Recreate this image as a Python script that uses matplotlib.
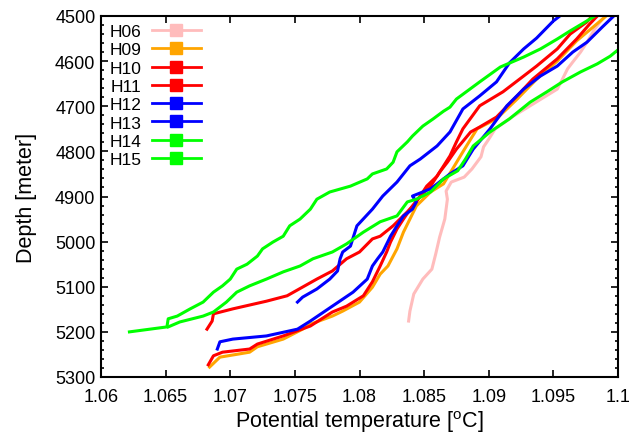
import matplotlib

matplotlib.use("Agg")

import matplotlib.pyplot as plt
from matplotlib.lines import Line2D
from matplotlib.ticker import AutoMinorLocator, FuncFormatter, MultipleLocator

plt.rcParams["font.family"] = ["Liberation Sans", "DejaVu Sans"]
plt.rcParams["mathtext.fontset"] = "custom"
plt.rcParams["mathtext.rm"] = "Liberation Sans"

STATIONS = ["H06", "H09", "H10", "H11", "H12", "H13", "H14", "H15"]
COLORS = ["#ffbcbc", "#ffa500", "#ff0000", "#ff0000", "#0000ff", "#0000ff", "#00ff00", "#00ff00"]

# potential temperature [degC] and depth [m]
h06_temp = [1.0838, 1.0839, 1.0842, 1.0849, 1.0856, 1.0859, 1.0862, 1.0866, 1.0868, 1.0867,
            1.0871, 1.0881, 1.0887, 1.0894, 1.0896, 1.0900, 1.0905, 1.0919, 1.0932, 1.0953,
            1.0957, 1.0961, 1.0965, 1.0971, 1.0976, 1.0982, 1.0988, 1.0990]
h06_depth = [5176, 5154, 5116, 5083, 5061, 5027, 4990, 4950, 4906, 4888,
             4868, 4857, 4839, 4812, 4790, 4773, 4750, 4722, 4699, 4662,
             4640, 4617, 4602, 4580, 4558, 4529, 4507, 4500]

h09_temp = [1.0684, 1.0692, 1.0715, 1.0721, 1.0741, 1.0756, 1.0762, 1.0779, 1.0787, 1.0800,
            1.0810, 1.0816, 1.0822, 1.0829, 1.0834, 1.0839, 1.0844, 1.0855, 1.0865, 1.0872,
            1.0880, 1.0886, 1.0891, 1.0906, 1.0922, 1.0937, 1.0953, 1.0968, 1.0981, 1.0990]
h09_depth = [5278, 5256, 5245, 5233, 5216, 5194, 5183, 5165, 5154, 5134,
             5101, 5072, 5054, 5016, 4979, 4950, 4921, 4890, 4872, 4839,
             4801, 4773, 4750, 4728, 4684, 4640, 4600, 4555, 4524, 4502]

h10_temp = [1.0683, 1.0687, 1.0694, 1.0715, 1.0721, 1.0741, 1.0762, 1.0779, 1.0790, 1.0803,
            1.0810, 1.0816, 1.0821, 1.0824, 1.0829, 1.0834, 1.0841, 1.0847, 1.0855, 1.0862,
            1.0868, 1.0875, 1.0886, 1.0893, 1.0906, 1.0922, 1.0934, 1.0953, 1.0968, 1.0978,
            1.0984]
h10_depth = [5273, 5253, 5245, 5238, 5227, 5209, 5187, 5156, 5143, 5120,
             5089, 5054, 5023, 5001, 4972, 4950, 4921, 4899, 4877, 4846,
             4824, 4795, 4757, 4746, 4724, 4677, 4640, 4595, 4551, 4518,
             4500]

h11_temp = [1.0682, 1.0686, 1.0687, 1.0702, 1.0728, 1.0744, 1.0767, 1.0779, 1.0790, 1.0800,
            1.0810, 1.0816, 1.0826, 1.0837, 1.0844, 1.0852, 1.0860, 1.0870, 1.0875, 1.0880,
            1.0893, 1.0911, 1.0927, 1.0937, 1.0953, 1.0963, 1.0976, 1.0980]
h11_depth = [5194, 5176, 5160, 5149, 5132, 5120, 5083, 5065, 5038, 5023,
             4994, 4988, 4965, 4934, 4912, 4877, 4855, 4810, 4779, 4750,
             4699, 4668, 4633, 4611, 4573, 4540, 4513, 4500]

h12_temp = [1.0752, 1.0756, 1.0767, 1.0777, 1.0783, 1.0785, 1.0787, 1.0793, 1.0798, 1.0810,
            1.0818, 1.0829, 1.0839, 1.0847, 1.0860, 1.0870, 1.0880, 1.0893, 1.0906, 1.0916,
            1.0927, 1.0937, 1.0950, 1.0955]
h12_depth = [5134, 5123, 5105, 5083, 5065, 5038, 5023, 5010, 4965, 4928,
             4899, 4868, 4832, 4817, 4788, 4757, 4706, 4677, 4646, 4604,
             4573, 4549, 4511, 4500]

h13_temp = [1.0690, 1.0692, 1.0702, 1.0728, 1.0752, 1.0762, 1.0779, 1.0795, 1.0806, 1.0810,
            1.0814, 1.0818, 1.0824, 1.0829, 1.0834, 1.0841, 1.0844, 1.0841, 1.0855, 1.0870,
            1.0880, 1.0888, 1.0901, 1.0914, 1.0927, 1.0940, 1.0953, 1.0965, 1.0976, 1.0988,
            1.0996]
h13_depth = [5238, 5222, 5216, 5209, 5194, 5176, 5143, 5112, 5083, 5054,
             5038, 5023, 4988, 4965, 4943, 4928, 4912, 4899, 4883, 4850,
             4832, 4795, 4750, 4699, 4662, 4633, 4611, 4580, 4558, 4524,
             4502]

h14_temp = [1.0622, 1.0651, 1.0652, 1.0659, 1.0669, 1.0679, 1.0687, 1.0694, 1.0700, 1.0705,
            1.0713, 1.0721, 1.0725, 1.0733, 1.0741, 1.0746, 1.0754, 1.0762, 1.0767, 1.0777,
            1.0793, 1.0806, 1.0810, 1.0821, 1.0826, 1.0829, 1.0837, 1.0841, 1.0849, 1.0857,
            1.0865, 1.0870, 1.0875, 1.0893, 1.0909, 1.0927, 1.0940, 1.0953, 1.0963, 1.0973,
            1.0981]
h14_depth = [5200, 5189, 5171, 5165, 5149, 5134, 5112, 5098, 5083, 5061,
             5050, 5032, 5016, 5001, 4988, 4965, 4950, 4928, 4906, 4890,
             4877, 4861, 4850, 4839, 4824, 4801, 4779, 4766, 4744, 4728,
             4711, 4702, 4684, 4646, 4613, 4591, 4573, 4551, 4533, 4516,
             4502]

h15_temp = [1.0652, 1.0661, 1.0679, 1.0687, 1.0697, 1.0705, 1.0715, 1.0728, 1.0741, 1.0754,
            1.0764, 1.0779, 1.0790, 1.0803, 1.0816, 1.0829, 1.0837, 1.0844, 1.0855, 1.0865,
            1.0876, 1.0882, 1.0888, 1.0901, 1.0916, 1.0932, 1.0945, 1.0957, 1.0971, 1.0984,
            1.0994, 1.1000, 1.1005]
h15_depth = [5189, 5178, 5165, 5156, 5134, 5112, 5098, 5083, 5067, 5054,
             5038, 5023, 5005, 4979, 4956, 4943, 4912, 4906, 4890, 4861,
             4843, 4817, 4788, 4757, 4728, 4691, 4668, 4646, 4624, 4606,
             4589, 4575, 4569]

TEMPS = [h06_temp, h09_temp, h10_temp, h11_temp, h12_temp, h13_temp, h14_temp, h15_temp]
DEPTHS = [h06_depth, h09_depth, h10_depth, h11_depth, h12_depth, h13_depth, h14_depth, h15_depth]

fig = plt.figure(figsize=(6.44, 4.35), dpi=100)
ax = fig.add_axes([101 / 644, 1 - 378 / 435, 517 / 644, 361 / 435])

handles = []
for name, color, temp, depth in zip(STATIONS, COLORS, TEMPS, DEPTHS):
    ax.plot(temp, depth, color=color, lw=2.2)
    handles.append(Line2D([], [], color=color, lw=2.0, marker="s", markersize=8, label=name))

ax.set_xlim(1.06, 1.1)
ax.set_ylim(5300, 4500)
ax.xaxis.set_major_locator(MultipleLocator(0.005))
ax.xaxis.set_major_formatter(FuncFormatter(lambda v, _: f"{round(v, 4):g}"))
ax.yaxis.set_major_locator(MultipleLocator(100))
ax.yaxis.set_minor_locator(AutoMinorLocator(5))

ax.tick_params(which="both", direction="in", top=True, right=True, width=1.2)
ax.tick_params(which="major", length=5, labelsize=13)
ax.tick_params(axis="x", which="major", pad=8)
ax.tick_params(axis="y", which="major", pad=4)
ax.tick_params(which="minor", length=2.5)
for side in ax.spines.values():
    side.set_linewidth(1.5)

ax.set_xlabel(r"Potential temperature [$^{\mathrm{o}}$C]", fontsize=15.5, labelpad=2)
ax.set_ylabel("Depth [meter]", fontsize=15.5, labelpad=13)

ax.legend(handles=handles, loc="upper left", bbox_to_anchor=(0.003, 0.997), frameon=False,
          markerfirst=False, fontsize=12.5, handlelength=2.8, handletextpad=0.6,
          labelspacing=0.18, borderaxespad=0.0, borderpad=0.4)

fig.savefig("out.png", dpi=100)
